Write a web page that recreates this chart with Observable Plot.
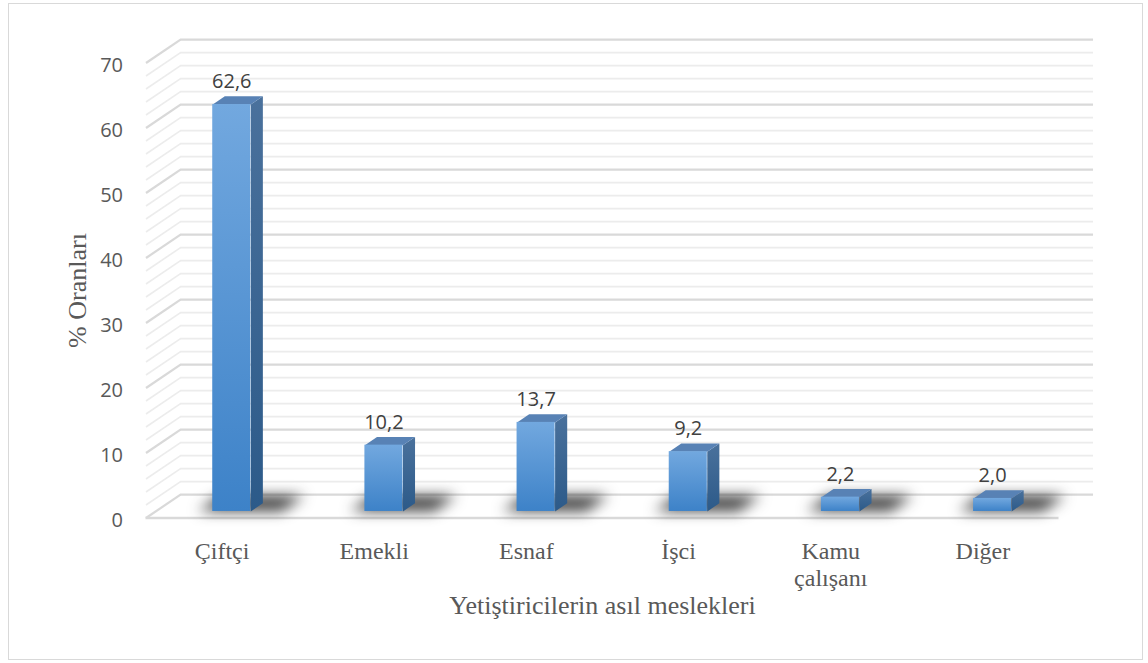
<!DOCTYPE html>
<html><head><meta charset="utf-8">
<script src="https://cdn.jsdelivr.net/npm/d3@7"></script>
<script src="https://cdn.jsdelivr.net/npm/@observablehq/plot@0.6"></script>
<style>
html,body{margin:0;padding:0;background:#fff;}
#wrap{position:relative;width:1148px;height:663px;overflow:hidden;}
#border{position:absolute;left:8px;top:3px;width:1133px;height:655px;border:1.5px solid #d9d9d9;pointer-events:none;}
svg{overflow:visible;}
</style></head><body>
<div id="wrap"><div id="border"></div></div>
<script>
// ---- data ----
const categories = ["Çiftçi", "Emekli", "Esnaf", "İşci", "Kamu\nçalışanı", "Diğer"];
const values = [62.6, 10.2, 13.7, 9.2, 2.2, 2.0];
const yTicks = [0, 10, 20, 30, 40, 50, 60, 70];
const xTitle = "Yetiştiricilerin asıl meslekleri";
const yTitle = "% Oranları";

// ---- oblique projection (data units) ----
const DX = 0.227, DY = 3.6;      // depth of the floor
const F1 = 0.28, F2 = 0.63;      // bar front / back depth fractions
const HW = 0.125;                // half bar width (category units)
const minor = d3.range(0, 71, 2).filter(d => d % 10 !== 0);

const fmt = d => d.toFixed(1).replace(".", ",");

const bars = values.map((v, i) => ({v, i, c: i + 0.5}));
const topFaces = bars.flatMap(b => [
  [b.c - HW + F1 * DX, b.v + F1 * DY],
  [b.c + HW + F1 * DX, b.v + F1 * DY],
  [b.c + HW + F2 * DX, b.v + F2 * DY],
  [b.c - HW + F2 * DX, b.v + F2 * DY]
].map(([x, y]) => ({x, y, id: b.i})));
const sideFaces = bars.flatMap(b => [
  [b.c + HW + F1 * DX, F1 * DY],
  [b.c + HW + F1 * DX, b.v + F1 * DY],
  [b.c + HW + F2 * DX, b.v + F2 * DY],
  [b.c + HW + F2 * DX, F2 * DY]
].map(([x, y]) => ({x, y, id: b.i})));
const shadows = bars.flatMap(b => {
  const xl = b.c - HW - 0.1, xr = b.c + HW + 0.2, d1 = 0.3, d2 = 0.95;
  return [
    [xl + d1 * DX, d1 * DY], [xr + d1 * DX, d1 * DY],
    [xr + d2 * DX, d2 * DY], [xl + d2 * DX, d2 * DY]
  ].map(([x, y]) => ({x, y, id: b.i}));
});

const serif = "'Liberation Serif', 'Times New Roman', serif";
const sans = "'Open Sans', sans-serif";

const chart = Plot.plot({
  width: 1148,
  height: 663,
  marginLeft: 145.5,
  marginRight: 89.5,
  marginTop: 62.5,
  marginBottom: 145.5,
  x: {type: "linear", domain: [0, 6], axis: null},
  y: {type: "linear", domain: [0, 70], axis: null},
  style: {fontFamily: sans, background: "transparent"},
  marks: [
    // back wall grid
    Plot.ruleY(minor, {y: d => d + DY, x1: DX, x2: 6 + DX, stroke: "#ececec", strokeWidth: 1.6}),
    Plot.ruleY(yTicks, {y: d => d + DY, x1: DX, x2: 6 + DX, stroke: "#d9d9d9", strokeWidth: 2.2}),
    // left wall grid
    Plot.link(minor, {x1: 0, y1: d => d, x2: DX, y2: d => d + DY, stroke: "#ececec", strokeWidth: 1.6}),
    Plot.link(yTicks, {x1: 0, y1: d => d, x2: DX, y2: d => d + DY, stroke: "#d9d9d9", strokeWidth: 2.2}),
    // floor front edge
    Plot.ruleY([0], {x1: 0, x2: 6, stroke: "#d9d9d9", strokeWidth: 2.6}),
    // shadows
    Plot.line(shadows, {x: "x", y: "y", z: "id", fill: "#1b1b1b", stroke: "none", fillOpacity: 0.85, imageFilter: "blur(7px)"}),
    // bars
    Plot.line(sideFaces, {x: "x", y: "y", z: "id", fill: "url(#sideGrad)", stroke: "none"}),
    Plot.line(topFaces, {x: "x", y: "y", z: "id", fill: "#5882b5", stroke: "none"}),
    Plot.rect(bars, {x1: d => d.c - HW + F1 * DX, x2: d => d.c + HW + F1 * DX, y1: F1 * DY, y2: d => d.v + F1 * DY, fill: "url(#frontGrad)"}),
    // value labels
    Plot.text(bars, {x: d => d.c + F1 * DX, y: d => d.v + F1 * DY, text: d => fmt(d.v), dy: -23, fontSize: 20, fill: "#404040", fontFamily: sans}),
    // y axis
    Plot.axisY(yTicks, {anchor: "left", tickSize: 0, tickPadding: 23, dy: 3, fontSize: 20, color: "#595959", fontFamily: sans, label: null}),
    // category labels
    Plot.text(categories, {x: (d, i) => i + 0.5, y: 0, lineAnchor: "top", dy: 21.5, lineHeight: 1.125, fontSize: 24, fill: "#595959", fontFamily: serif}),
    // titles
    Plot.text([xTitle], {x: 3, y: 0, dy: 88, fontSize: 26, fill: "#595959", fontFamily: serif}),
    Plot.text([yTitle], {x: 0, y: 35, rotate: -90, dx: -68, fontSize: 26, fill: "#595959", fontFamily: serif})
  ]
});

const svg = d3.select(chart);
const defs = svg.insert("defs", ":first-child");
const fg = defs.append("linearGradient").attr("id", "frontGrad").attr("x1", 0).attr("y1", 0).attr("x2", 0).attr("y2", 1);
fg.append("stop").attr("offset", "0%").attr("stop-color", "#72a8df");
fg.append("stop").attr("offset", "100%").attr("stop-color", "#3d82c8");
const sg = defs.append("linearGradient").attr("id", "sideGrad").attr("x1", 0).attr("y1", 0).attr("x2", 0).attr("y2", 1);
sg.append("stop").attr("offset", "0%").attr("stop-color", "#4a719c");
sg.append("stop").attr("offset", "100%").attr("stop-color", "#2c5a89");

d3.select(chart).style("position", "absolute").style("left", "0px").style("top", "0px");
document.getElementById("wrap").appendChild(chart);
</script>
</body></html>
